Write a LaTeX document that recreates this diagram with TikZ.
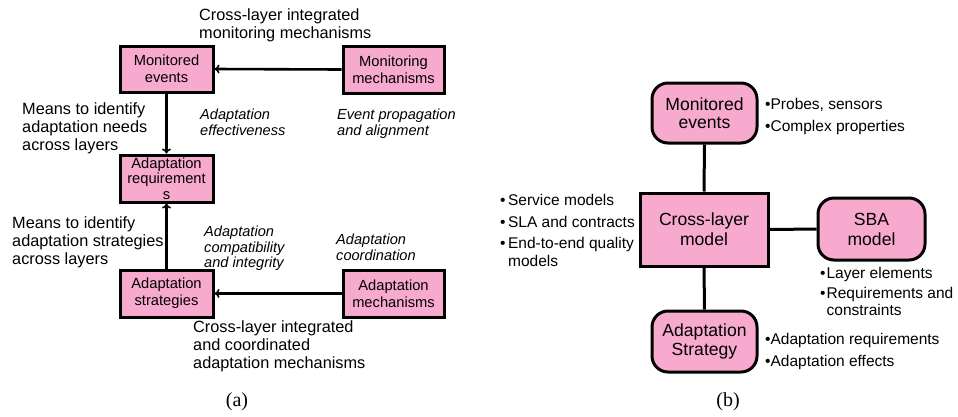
\documentclass[tikz,border=0pt]{standalone}
\usepackage{fontspec}
\setmainfont{Liberation Sans}
\newfontfamily\capfont{Liberation Serif}
\usetikzlibrary{arrows.meta}
\definecolor{boxpink}{HTML}{F8AACE}
\tikzset{
  sqbox/.style={draw=black, line width=3pt, fill=boxpink, inner sep=0pt, align=center},
  rbox/.style={draw=black, line width=3pt, fill=boxpink, inner sep=0pt, align=center, rounded corners=16pt},
  lbl/.style={anchor=north west, inner sep=0pt, align=left, font=\fontsize{16.3}{18}\selectfont},
  itl/.style={anchor=north west, inner sep=0pt, align=left, font=\fontsize{14.6}{15.5}\selectfont\itshape},
  blist/.style={anchor=north west, inner sep=0pt, font=\fontsize{15.5}{17.3}\selectfont},
  arr/.style={line width=2.6pt, -{To[length=5pt,width=9pt,line width=1.6pt]}},
  conn/.style={line width=3pt},
  capt/.style={inner sep=0pt, font=\capfont\fontsize{20}{22}\selectfont},
}
\begin{document}
\begin{tikzpicture}[x=1pt,y=-1pt]
\useasboundingbox (0,0) rectangle (958,416);
% ---------- (a) ----------
\node[sqbox, minimum width=93pt, minimum height=46pt, font=\fontsize{14.7}{16.7}\selectfont] (me) at (166.5,69) {Monitored\\events};
\node[sqbox, minimum width=101pt, minimum height=47pt, font=\fontsize{14.7}{16.7}\selectfont] (mm) at (393.5,69.5) {Monitoring\\mechanisms};
\node[sqbox, minimum width=93pt, minimum height=47pt, font=\fontsize{14.7}{15.5}\selectfont] (ar) at (166.5,178.5) {Adaptation\\requirement\\s};
\node[sqbox, minimum width=93pt, minimum height=47pt, font=\fontsize{14.7}{16.7}\selectfont] (as) at (166.5,293.5) {Adaptation\\strategies};
\node[sqbox, minimum width=101pt, minimum height=47pt, font=\fontsize{14.7}{16.7}\selectfont] (am) at (393.5,293.5) {Adaptation\\mechanisms};
\draw[arr] (mm.west) -- (me.east);
\draw[arr] (me.south) -- (ar.north);
\draw[arr] (as.north) -- (ar.south);
\draw[arr] (am.west) -- (as.east);

\node[lbl] (t1) at (199,8) {Cross-layer integrated\\monitoring mechanisms};
\node[lbl] (t2) at (22,102) {Means to identify\\adaptation needs\\across layers};
\node[itl] (t3) at (200,109) {Adaptation\\effectiveness};
\node[itl] (t4) at (337,109) {Event propagation\\and alignment};
\node[lbl] (t5) at (12,216) {Means to identify\\adaptation strategies\\across layers};
\node[itl] (t6) at (204,226) {Adaptation\\compatibility\\and integrity};
\node[itl] (t7) at (336,234) {Adaptation\\coordination};
\node[lbl] (t8) at (193,320) {Cross-layer integrated\\and coordinated\\adaptation mechanisms};
\node[capt] (capa) at (237,402) {(a)};

% ---------- (b) ----------
\node[rbox, minimum width=105pt, minimum height=60pt, font=\fontsize{17.6}{18.3}\selectfont] (bme) at (704.5,113) {Monitored\\events};
\node[sqbox, minimum width=128pt, minimum height=73pt, font=\fontsize{17.6}{20}\selectfont] (bcl) at (704,229.5) {Cross-layer\\model};
\node[rbox, minimum width=107pt, minimum height=62pt, font=\fontsize{17.6}{20}\selectfont] (bsba) at (871.5,229) {SBA\\model};
\node[rbox, minimum width=105pt, minimum height=61pt, font=\fontsize{17.6}{18.3}\selectfont] (bas) at (704.5,341.5) {Adaptation\\Strategy};
\draw[conn] (bme.south) -- (bcl.north);
\draw[conn] (bcl.east) -- (bsba.west);
\draw[conn] (bcl.south) -- (bas.north);

\node[blist] (l1) at (765,97) {\begin{tabular}{@{}l@{}l@{}}•&Probes, sensors\\[4.4pt]•&Complex properties\end{tabular}};
\node[blist] (l2) at (500,193) {\begin{tabular}{@{}l@{\hspace{2.5pt}}l@{}}•&Service models\\[4.4pt]•&SLA and contracts\\[4.4pt]•&End-to-end quality\\&models\end{tabular}};
\node[blist] (l3) at (820,266) {\begin{tabular}{@{}l@{\hspace{1pt}}l@{}}•&Layer elements\\[3pt]•&Requirements and\\&constraints\end{tabular}};
\node[blist] (l4) at (765,332) {\begin{tabular}{@{}l@{}l@{}}•&Adaptation requirements\\[4.4pt]•&Adaptation effects\end{tabular}};
\node[capt] (capb) at (728,402) {(b)};
\end{tikzpicture}
\end{document}
